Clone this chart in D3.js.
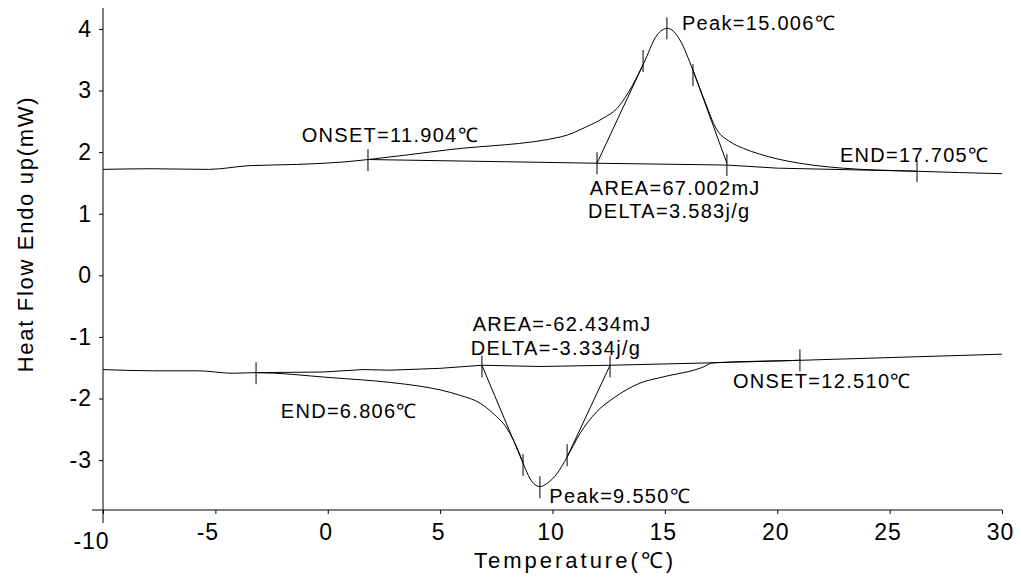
<!DOCTYPE html>
<html>
<head>
<meta charset="utf-8">
<script src="https://cdn.jsdelivr.net/npm/d3@7"></script>
<style>
  body { margin: 0; background: #fff; }
  svg { display: block; font-family: "Liberation Sans", Arial, sans-serif; }
  .curve, .guide { fill: none; stroke: #000; stroke-width: 1; }
  .mark { stroke: #000; stroke-width: 1; }
  .axis text { font-size: 23px; letter-spacing: 1px; fill: #000; }
  .axis line { stroke: #000; }
  .note { font-size: 20px; letter-spacing: 1.3px; fill: #000; }
  .title { font-size: 22px; fill: #000; }
</style>
</head>
<body>
<script>
// Heating run (endotherm up): temperature (°C) and heat flow (mW)
let heatT = [-10, -7.9, -5.3, -3.5, -1.4, 0.7, 1.8, 5.4, 10.4, 11.5, 12.25, 12.87, 13.36, 14.03, 14.65, 14.87, 15.1, 15.36, 15.67, 16.25, 16.7, 17.32, 17.9, 18.5, 19.2, 20.0, 21.0, 22.9, 26.2, 30];
let heatQ = [1.72, 1.73, 1.72, 1.78, 1.80, 1.84, 1.88, 2.04, 2.25, 2.41, 2.55, 2.71, 2.96, 3.42, 3.90, 3.98, 4.01, 3.97, 3.82, 3.33, 2.90, 2.36, 2.17, 2.06, 1.97, 1.89, 1.82, 1.74, 1.69, 1.65];

// Cooling run (exotherm down)
let coolT = [-10, -7.8, -5.8, -4.2, -3.2, 0.1, 2.8, 4.1, 5.0, 5.9, 6.8, 7.35, 7.98, 8.47, 8.78, 9.09, 9.44, 9.75, 10.2, 10.65, 11.22, 11.98, 12.69, 13.89, 14.92, 16.7, 17.14, 21.0, 30];
let coolQ = [-1.53, -1.55, -1.55, -1.59, -1.58, -1.66, -1.74, -1.80, -1.86, -1.95, -2.08, -2.24, -2.49, -2.84, -3.13, -3.35, -3.43, -3.38, -3.22, -2.95, -2.57, -2.21, -2.00, -1.75, -1.65, -1.49, -1.42, -1.38, -1.28];

// Integration baselines
let heatBaseT = [1.79, 11.98, 17.76, 20.0, 26.22];
let heatBaseQ = [1.88, 1.82, 1.79, 1.74, 1.69];
let coolBaseT = [-3.19, -0.21, 1.57, 2.77, 4.99, 6.86, 9.44, 12.56, 17.14, 21.01];
let coolBaseQ = [-1.58, -1.57, -1.53, -1.54, -1.51, -1.46, -1.48, -1.46, -1.42, -1.38];

// Tangent lines [t0, q0, t1, q1]
let tangents = [
  [11.98, 1.82, 14.03, 3.42],
  [16.25, 3.33, 17.76, 1.82],
  [6.86, -1.46, 8.69, -3.05],
  [10.65, -2.95, 12.56, -1.46]
];

// Vertical marker positions
let markT = [1.79, 11.98, 14.03, 15.09, 16.25, 17.76, 26.22, -3.19, 6.86, 8.69, 9.44, 10.65, 12.56, 21.01];
let markQ = [1.87, 1.82, 3.48, 4.01, 3.25, 1.79, 1.69, -1.59, -1.48, -3.08, -3.44, -2.92, -1.48, -1.38];

// Annotations, anchored at (temperature, heat flow)
let noteText = ["Peak=15.006℃", "ONSET=11.904℃", "AREA=67.002mJ", "DELTA=3.583j/g", "END=17.705℃",
                "AREA=-62.434mJ", "DELTA=-3.334j/g", "END=6.806℃", "ONSET=12.510℃", "Peak=9.550℃"];
let noteT = [15.76, -1.16, 11.66, 11.58, 22.79, 6.45, 6.36, -2.09, 18.03, 9.86];
let noteQ = [3.99, 2.17, 1.30, 0.93, 1.84, -0.90, -1.29, -2.31, -1.83, -3.70];

let xTicks = [-10, -5, 0, 5, 10, 15, 20, 25, 30];
let yTicks = [-3, -2, -1, 0, 1, 2, 3, 4];

let width = 1021, height = 578;

let x = d3.scaleLinear([-10, 30], [103, 1002]);
let y = d3.scaleLinear([-3.81, 4.34], [510, 8]);

let svg = d3.select("body").append("svg")
    .attr("width", width)
    .attr("height", height);

// Axes
let xAxis = svg.append("g")
    .attr("class", "axis")
    .attr("transform", `translate(0,${y(-3.81)})`)
    .call(d3.axisBottom(x).tickValues(xTicks).tickSize(4).tickSizeOuter(0).tickFormat(d => String(d)));
xAxis.select(".domain").remove();
xAxis.selectAll("text")
    .attr("y", d => d == -10 ? 39 : 30)
    .attr("dx", d => d == -10 ? -12 : d < 0 ? -8 : -2)
    .attr("dy", null);

let yAxis = svg.append("g")
    .attr("class", "axis")
    .attr("transform", `translate(${x(-10)},0)`)
    .call(d3.axisLeft(y).tickValues(yTicks).tickSize(4).tickPadding(7).tickSizeOuter(0).tickFormat(d => String(d)));
yAxis.select(".domain").remove();

svg.append("line").attr("class", "mark")
    .attr("x1", x(-10) - 11).attr("x2", x(30))
    .attr("y1", y(-3.81)).attr("y2", y(-3.81));
svg.append("line").attr("class", "mark")
    .attr("x1", x(-10)).attr("x2", x(-10))
    .attr("y1", y(4.34)).attr("y2", y(-3.81) + 13);

// Curves
let smooth = d3.line().x(d => x(d[0])).y(d => y(d[1])).curve(d3.curveMonotoneX);
let straight = d3.line().x(d => x(d[0])).y(d => y(d[1]));

svg.append("path").attr("class", "curve").attr("d", smooth(d3.zip(heatT, heatQ)));
svg.append("path").attr("class", "curve").attr("d", smooth(d3.zip(coolT, coolQ)));
svg.append("path").attr("class", "guide").attr("d", straight(d3.zip(heatBaseT, heatBaseQ)));
svg.append("path").attr("class", "guide").attr("d", straight(d3.zip(coolBaseT, coolBaseQ)));

svg.selectAll(".tangent")
    .data(tangents)
    .enter()
    .append("path")
    .attr("class", "guide tangent")
    .attr("d", d => straight([[d[0], d[1]], [d[2], d[3]]]));

svg.selectAll(".marker")
    .data(d3.zip(markT, markQ))
    .enter()
    .append("line")
    .attr("class", "mark marker")
    .attr("x1", d => x(d[0])).attr("x2", d => x(d[0]))
    .attr("y1", d => y(d[1]) - 11).attr("y2", d => y(d[1]) + 11);

svg.selectAll(".note")
    .data(d3.zip(noteText, noteT, noteQ))
    .enter()
    .append("text")
    .attr("class", "note")
    .attr("x", d => x(d[1]))
    .attr("y", d => y(d[2]))
    .text(d => d[0]);

// Axis titles
svg.append("text")
    .attr("class", "title")
    .attr("x", 575).attr("y", 568)
    .attr("text-anchor", "middle")
    .style("letter-spacing", "3px")
    .text("Temperature(℃)");

svg.append("text")
    .attr("class", "title")
    .attr("transform", "translate(33,234) rotate(-90)")
    .attr("text-anchor", "middle")
    .style("letter-spacing", "1.7px")
    .text("Heat Flow Endo up(mW)");
</script>
</body>
</html>
